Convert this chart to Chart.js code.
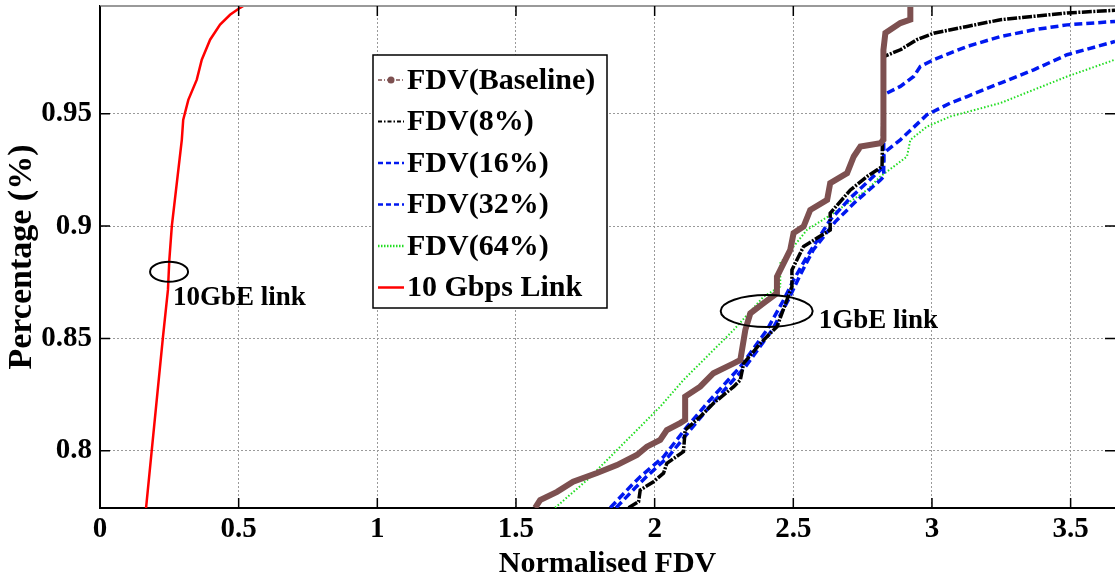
<!DOCTYPE html>
<html>
<head>
<meta charset="utf-8">
<script src="https://cdn.jsdelivr.net/npm/chart.js@4.4.0/dist/chart.umd.min.js"></script>
<style>
  html, body { margin: 0; padding: 0; background: #fff; }
  #wrap { width: 1115px; height: 582px; }
</style>
</head>
<body>
<div id="wrap"><canvas id="chart"></canvas></div>
<script>
// axis ticks
const xTicks = [0, 0.5, 1, 1.5, 2, 2.5, 3, 3.5];
const xTickLabels = ['0', '0.5', '1', '1.5', '2', '2.5', '3', '3.5'];
const yTicks = [0.8, 0.85, 0.9, 0.95];
const yTickLabels = ['0.8', '0.85', '0.9', '0.95'];

// FDV(Baseline)
const baselineX = [1.569, 1.587, 1.648, 1.706, 1.792, 1.864, 1.936, 1.972, 2.020, 2.044, 2.092, 2.110, 2.110, 2.164, 2.212, 2.285, 2.309, 2.327, 2.345, 2.393, 2.441, 2.441, 2.489, 2.501, 2.537, 2.561, 2.622, 2.633, 2.694, 2.718, 2.742, 2.814, 2.825, 2.825, 2.832, 2.886, 2.922, 2.922];
const baselineY = [0.7746, 0.778, 0.7817, 0.7862, 0.7901, 0.7936, 0.7981, 0.8018, 0.8048, 0.8092, 0.8123, 0.8137, 0.8241, 0.8285, 0.8345, 0.8389, 0.8404, 0.8538, 0.8612, 0.8657, 0.8701, 0.8775, 0.8894, 0.8969, 0.8998, 0.9072, 0.9117, 0.9191, 0.9236, 0.931, 0.9354, 0.9369, 0.9384, 0.9785, 0.986, 0.9904, 0.9919, 1.0];

// FDV(8%)
const fdv8X = [1.906, 1.942, 1.948, 1.996, 2.032, 2.044, 2.104, 2.110, 2.164, 2.212, 2.285, 2.309, 2.321, 2.381, 2.441, 2.495, 2.495, 2.537, 2.633, 2.633, 2.706, 2.766, 2.820, 2.826, 2.886, 2.946, 3.006, 3.127, 3.247, 3.367, 3.487, 3.66];
const fdv8Y = [0.7746, 0.7773, 0.7825, 0.7862, 0.79, 0.7944, 0.7996, 0.8092, 0.8151, 0.8211, 0.8285, 0.8315, 0.8389, 0.8478, 0.8552, 0.8731, 0.8805, 0.8909, 0.8983, 0.9058, 0.9161, 0.9221, 0.9265, 0.9755, 0.9785, 0.983, 0.9859, 0.9889, 0.9919, 0.9934, 0.9949, 0.9961];

// FDV(16%)
const fdv16X = [1.840, 1.912, 1.948, 2.032, 2.117, 2.189, 2.309, 2.405, 2.465, 2.501, 2.549, 2.633, 2.706, 2.815, 2.826, 2.826, 2.886, 2.934, 2.958, 3.006, 3.127, 3.247, 3.367, 3.487, 3.66];
const fdv16Y = [0.7746, 0.784, 0.7884, 0.7973, 0.8107, 0.8211, 0.8374, 0.8538, 0.8671, 0.876, 0.8864, 0.9028, 0.9126, 0.9251, 0.9265, 0.9585, 0.9622, 0.9666, 0.9711, 0.9741, 0.98, 0.9844, 0.9874, 0.9896, 0.9911];

// FDV(32%)
const fdv32X = [1.861, 1.934, 1.970, 2.049, 2.128, 2.208, 2.327, 2.424, 2.482, 2.525, 2.572, 2.651, 2.724, 2.815, 2.826, 2.826, 2.886, 2.982, 3.066, 3.127, 3.247, 3.367, 3.487, 3.66];
const fdv32Y = [0.7746, 0.784, 0.7884, 0.7973, 0.8092, 0.8211, 0.8374, 0.8538, 0.8671, 0.8783, 0.8894, 0.9019, 0.9108, 0.9206, 0.9221, 0.9325, 0.9384, 0.9496, 0.9548, 0.9577, 0.9637, 0.9696, 0.9763, 0.9822];

// FDV(64%)
const fdv64X = [1.641, 1.756, 1.852, 1.936, 2.020, 2.104, 2.285, 2.393, 2.453, 2.453, 2.501, 2.549, 2.645, 2.766, 2.814, 2.862, 2.910, 2.922, 2.982, 3.066, 3.247, 3.367, 3.487, 3.66];
const fdv64Y = [0.7746, 0.7869, 0.7988, 0.8092, 0.8196, 0.8315, 0.8538, 0.8686, 0.8731, 0.8835, 0.8909, 0.8983, 0.9058, 0.9161, 0.9221, 0.9265, 0.931, 0.9384, 0.9443, 0.9488, 0.9548, 0.9607, 0.9666, 0.9741];

// 10 Gbps Link
const link10X = [0.166, 0.1865, 0.227, 0.245, 0.25, 0.259, 0.295, 0.30, 0.3185, 0.349, 0.367, 0.397, 0.433, 0.469, 0.505, 0.523];
const link10Y = [0.7744, 0.80, 0.8506, 0.8716, 0.885, 0.90, 0.9384, 0.9473, 0.9562, 0.9652, 0.9741, 0.983, 0.9897, 0.9941, 0.9972, 0.9985];

const pts = (xs, ys) => xs.map((x, i) => ({ x: x, y: ys[i] }));

const serif = '"Liberation Serif", "Times New Roman", serif';

// custom legend, annotations and inward ticks
const decor = {
    id: 'decor',
    afterDraw(chart) {
        const ctx = chart.ctx;
        const a = chart.chartArea;
        const xs = chart.scales.x, ys = chart.scales.y;
        ctx.save();

        // top frame line
        ctx.strokeStyle = '#999';
        ctx.lineWidth = 2;
        ctx.beginPath();
        ctx.moveTo(a.left, a.top);
        ctx.lineTo(a.right, a.top);
        ctx.stroke();

        // inward ticks
        ctx.strokeStyle = '#000';
        ctx.lineWidth = 1.5;
        xTicks.forEach(v => {
            const p = xs.getPixelForValue(v);
            ctx.beginPath();
            ctx.moveTo(p, a.bottom); ctx.lineTo(p, a.bottom - 10);
            ctx.moveTo(p, a.top); ctx.lineTo(p, a.top + 10);
            ctx.stroke();
        });
        yTicks.forEach(v => {
            const p = ys.getPixelForValue(v);
            ctx.beginPath();
            ctx.moveTo(a.left, p); ctx.lineTo(a.left + 10, p);
            ctx.moveTo(a.right, p); ctx.lineTo(a.right - 10, p);
            ctx.stroke();
        });

        // ellipses + labels
        ctx.lineWidth = 2;
        ctx.strokeStyle = '#000';
        ctx.fillStyle = '#000';
        ctx.font = 'bold 27px ' + serif;
        ctx.textBaseline = 'middle';
        ctx.textAlign = 'left';
        let cx = xs.getPixelForValue(0.249), cy = ys.getPixelForValue(0.8797);
        ctx.beginPath();
        ctx.ellipse(cx, cy, 19, 10, 0, 0, Math.PI * 2);
        ctx.stroke();
        ctx.fillText('10GbE link', xs.getPixelForValue(0.263), ys.getPixelForValue(0.868));
        cx = xs.getPixelForValue(2.404); cy = ys.getPixelForValue(0.8622);
        ctx.beginPath();
        ctx.ellipse(cx, cy, 46, 16, 0, 0, Math.PI * 2);
        ctx.stroke();
        ctx.fillText('1GbE link', xs.getPixelForValue(2.592), ys.getPixelForValue(0.8576));

        // legend box
        const bx = 373, by = 55, bw = 234, bh = 253;
        ctx.fillStyle = '#fff';
        ctx.fillRect(bx, by, bw, bh);
        ctx.strokeStyle = '#000';
        ctx.lineWidth = 1.5;
        ctx.strokeRect(bx, by, bw, bh);
        ctx.font = 'bold 30px ' + serif;
        chart.data.datasets.forEach((ds, i) => {
            const yy = by + 25 + i * 41.5;
            ctx.save();
            ctx.strokeStyle = ds.borderColor;
            ctx.lineWidth = ds.legendWidth;
            ctx.setLineDash(ds.legendDash);
            ctx.beginPath();
            ctx.moveTo(bx + 5, yy);
            ctx.lineTo(bx + 31, yy);
            ctx.stroke();
            if (ds.legendDot) {
                ctx.fillStyle = ds.borderColor;
                ctx.beginPath();
                ctx.arc(bx + 18, yy, 3.5, 0, Math.PI * 2);
                ctx.fill();
            }
            ctx.restore();
            ctx.fillStyle = '#000';
            ctx.fillText(ds.label, bx + 34, yy + 1);
        });
        ctx.restore();
    }
};

const ctx = document.getElementById('chart');
const myChart = new Chart(ctx, {
    type: 'line',
    data: {
        datasets: [
            {
                label: 'FDV(Baseline)',
                data: pts(baselineX, baselineY),
                borderColor: '#7d5050',
                borderWidth: 6,
                legendWidth: 1.5, legendDash: [4, 2, 1, 2], legendDot: true
            },
            {
                label: 'FDV(8%)',
                data: pts(fdv8X, fdv8Y),
                borderColor: '#000000',
                borderWidth: 3.5,
                borderDash: [10, 1.5, 2, 1.5],
                legendWidth: 2, legendDash: [4, 2, 1.5, 2]
            },
            {
                label: 'FDV(16%)',
                data: pts(fdv16X, fdv16Y),
                borderColor: '#0018f0',
                borderWidth: 3.5,
                borderDash: [8, 4],
                legendWidth: 2.5, legendDash: [5, 3]
            },
            {
                label: 'FDV(32%)',
                data: pts(fdv32X, fdv32Y),
                borderColor: '#0018f0',
                borderWidth: 3.5,
                borderDash: [8, 4],
                legendWidth: 2.5, legendDash: [5, 3]
            },
            {
                label: 'FDV(64%)',
                data: pts(fdv64X, fdv64Y),
                borderColor: '#22dd22',
                borderWidth: 2,
                borderDash: [1.5, 2],
                legendWidth: 2.5, legendDash: [1.5, 1.5]
            },
            {
                label: '10 Gbps Link',
                data: pts(link10X, link10Y),
                borderColor: '#ff0000',
                borderWidth: 2.5,
                legendWidth: 2.5, legendDash: []
            }
        ]
    },
    options: {
        responsive: true,
        maintainAspectRatio: false,
        animation: false,
        parsing: false,
        elements: {
            point: { radius: 0 },
            line: { tension: 0, fill: false }
        },
        layout: { padding: { top: 6, right: 0, left: 0, bottom: 0 } },
        scales: {
            x: {
                type: 'linear',
                min: 0,
                max: 3.66,
                afterFit: s => { s.height = 74; s.paddingLeft = 0; s.paddingRight = 0; },
                afterBuildTicks: s => { s.ticks = xTicks.map(v => ({ value: v })); },
                ticks: {
                    padding: 4,
                    color: '#000',
                    font: { family: serif, size: 29, weight: 'bold' },
                    callback: (v, i) => xTickLabels[i]
                },
                grid: { color: '#9a9a9a', lineWidth: 1, drawTicks: false },
                border: { color: '#000', width: 2, dash: [2, 2] },
                title: {
                    display: true,
                    text: 'Normalised FDV',
                    color: '#000',
                    font: { family: serif, size: 30, weight: 'bold' },
                    padding: { top: 0, bottom: 0 }
                }
            },
            y: {
                type: 'linear',
                min: 0.7745,
                max: 0.998,
                afterFit: s => { s.width = 100; s.paddingTop = 0; s.paddingBottom = 0; },
                afterBuildTicks: s => { s.ticks = yTicks.map(v => ({ value: v })); },
                ticks: {
                    padding: 8,
                    color: '#000',
                    font: { family: serif, size: 29, weight: 'bold' },
                    callback: (v, i) => yTickLabels[i]
                },
                grid: { color: '#9a9a9a', lineWidth: 1, drawTicks: false },
                border: { color: '#000', width: 2, dash: [2, 2] },
                title: {
                    display: true,
                    text: 'Percentage (%)',
                    color: '#000',
                    font: { family: serif, size: 34, weight: 'bold' },
                    padding: { top: 2, bottom: 0 }
                }
            }
        },
        plugins: {
            legend: { display: false },
            tooltip: { enabled: false }
        }
    },
    plugins: [decor]
});
</script>
</body>
</html>
